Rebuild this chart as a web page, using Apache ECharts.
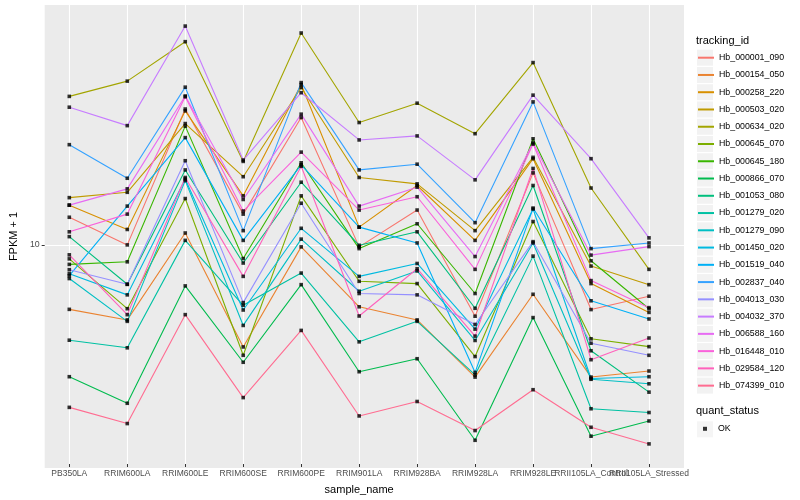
<!DOCTYPE html>
<html><head><meta charset="utf-8">
<script src="https://cdn.jsdelivr.net/npm/echarts@6/dist/echarts.min.js"></script>
<style>html,body{margin:0;padding:0;background:#fff}#c{width:800px;height:500px}</style>
</head><body><div id="c"></div>
<script>
const categories = ['PB350LA','RRIM600LA','RRIM600LE','RRIM600SE','RRIM600PE','RRIM901LA','RRIM928BA','RRIM928LA','RRIM928LE','RRII105LA_Control','RRII105LA_Stressed'];
const trackingIds = ['Hb_000001_090','Hb_000154_050','Hb_000258_220','Hb_000503_020','Hb_000634_020','Hb_000645_070','Hb_000645_180','Hb_000866_070','Hb_001053_080','Hb_001279_020','Hb_001279_090','Hb_001450_020','Hb_001519_040','Hb_002837_040','Hb_004013_030','Hb_004032_370','Hb_006588_160','Hb_016448_010','Hb_029584_120','Hb_074399_010'];
const quantStatus = ['OK'];
const yTickLabels = [10];

const hb000001_090 = [12.2, 9.85, 28.2, 12.5, 26.4, 9.70, 12.9, 5.67, 17.2, 5.97, 6.62];
const hb000154_050 = [5.98, 5.51, 10.8, 4.47, 9.70, 6.10, 5.51, 3.54, 6.72, 3.54, 3.71];
const hb000258_220 = [13.4, 11.1, 27.8, 14.4, 34.1, 11.3, 15.6, 10.2, 19.2, 7.30, 5.84];
const hb000503_020 = [14.2, 14.8, 25.2, 16.7, 33.3, 16.6, 15.8, 11.0, 19.4, 8.36, 7.24];
const hb000634_020 = [31.1, 35.0, 47.5, 18.8, 50.8, 25.4, 29.5, 23.3, 40.4, 15.3, 8.15];
const hb000645_070 = [8.84, 6.01, 14.1, 4.19, 14.4, 7.43, 7.30, 4.15, 11.8, 4.76, 4.48];
const hb000645_180 = [8.47, 8.64, 24.7, 8.86, 18.6, 9.57, 11.6, 6.76, 22.4, 8.71, 6.01];
const hb000866_070 = [3.55, 2.89, 7.17, 3.97, 7.24, 3.69, 4.08, 2.17, 5.61, 2.24, 2.52];
const hb001053_080 = [10.5, 7.26, 17.6, 8.56, 16.0, 9.82, 10.9, 6.03, 15.6, 4.34, 3.15];
const hb001279_020 = [4.71, 4.44, 10.2, 6.17, 7.92, 4.65, 5.45, 3.60, 9.03, 2.77, 2.69];
const hb001279_090 = [7.59, 5.45, 16.2, 5.28, 10.3, 6.88, 8.05, 4.70, 10.0, 3.48, 3.36];
const hb001450_020 = [7.88, 6.69, 16.4, 5.95, 11.2, 7.72, 8.53, 5.13, 13.0, 3.50, 3.55];
const hb001519_040 = [7.76, 13.3, 22.6, 10.2, 18.3, 11.3, 10.0, 3.67, 13.1, 6.39, 5.55];
const hb002837_040 = [21.4, 16.5, 33.4, 11.0, 34.6, 17.6, 18.4, 11.7, 29.8, 9.57, 10.0];
const hb004013_030 = [8.13, 7.26, 18.9, 6.30, 13.6, 6.76, 6.69, 5.32, 10.1, 4.60, 4.19];
const hb004032_370 = [28.6, 24.8, 53.6, 19.0, 32.0, 22.2, 22.9, 16.3, 31.4, 19.2, 10.4];
const hb006588_160 = [13.4, 15.2, 31.2, 14.0, 27.1, 13.3, 15.4, 9.00, 21.7, 9.10, 9.72];
const hb016448_010 = [10.9, 12.5, 31.0, 12.8, 20.2, 12.9, 14.3, 8.15, 21.5, 7.47, 6.06];
const hb029584_120 = [9.12, 5.74, 16.6, 7.72, 18.1, 5.68, 8.19, 4.86, 17.8, 4.05, 4.79];
const hb074399_010 = [2.80, 2.47, 5.74, 3.02, 5.08, 2.62, 2.93, 2.34, 3.21, 2.40, 2.11];

const seriesValues = [hb000001_090, hb000154_050, hb000258_220, hb000503_020, hb000634_020, hb000645_070, hb000645_180, hb000866_070, hb001053_080, hb001279_020, hb001279_090, hb001450_020, hb001519_040, hb002837_040, hb004013_030, hb004032_370, hb006588_160, hb016448_010, hb029584_120, hb074399_010];

const palette = ['#F8766D','#EA8331','#D89000','#C09B00','#A3A500','#7CAE00','#39B600','#00BB4E','#00BF7D','#00C1A3','#00BFC4','#00BAE0','#00B0F6','#35A2FF','#9590FF','#C77CFF','#E76BF3','#FA62DB','#FF62BC','#FF6C91'];

const FONT = '"Liberation Sans", Arial, sans-serif';
const yMin = 1.806, yMax = 63.1;

const chart = echarts.init(document.getElementById('c'), null, {renderer: 'canvas'});

const lineSeries = trackingIds.map((id, i) => ({
  name: id, type: 'line', xAxisIndex: 1, yAxisIndex: 1,
  data: seriesValues[i], symbol: 'none', showSymbol: false,
  lineStyle: {color: palette[i], width: 1.1},
  itemStyle: {color: palette[i]},
  z: 2, silent: true, animation: false
}));

const points = [];
seriesValues.forEach(arr => arr.forEach((v, j) => points.push([j, v])));

chart.setOption({
  animation: false,
  textStyle: {fontFamily: FONT},
  title: [
    {text: 'tracking_id', left: 696, top: 35, padding: 0, textStyle: {fontSize: 11, fontWeight: 'normal', color: '#000', fontFamily: FONT}},
    {text: 'quant_status', left: 696, top: 405, padding: 0, textStyle: {fontSize: 11, fontWeight: 'normal', color: '#000', fontFamily: FONT}}
  ],
  grid: [
    {left: 35, right: 116, top: 5, bottom: 32, show: true, backgroundColor: '#EBEBEB', borderWidth: 0, containLabel: false},
    {left: 69.3, right: 151, top: 5, bottom: 32, containLabel: false}
  ],
  xAxis: [
    {gridIndex: 0, type: 'value', min: 0, max: 1, show: false},
    {gridIndex: 1, type: 'category', data: categories, boundaryGap: false,
     axisLine: {show: false},
     axisTick: {show: true, length: 3, lineStyle: {color: '#333333', width: 1}},
     axisLabel: {interval: 0, fontSize: 8.5, color: '#4D4D4D', margin: 5, fontFamily: FONT},
     splitLine: {show: true, lineStyle: {color: '#FFFFFF', width: 1.1}},
     name: 'sample_name', nameLocation: 'middle', nameGap: 20,
     nameTextStyle: {fontSize: 11, color: '#000', fontFamily: FONT}}
  ],
  yAxis: [
    {gridIndex: 0, type: 'log', min: yMin, max: yMax,
     axisLine: {show: false},
     axisTick: {show: true, length: 3, customValues: yTickLabels, lineStyle: {color: '#333333', width: 1}},
     axisLabel: {customValues: yTickLabels, fontSize: 8.8, color: '#4D4D4D', margin: 5, fontFamily: FONT},
     splitLine: {show: true, lineStyle: {color: '#FFFFFF', width: 1.1}},
     minorSplitLine: {show: false},
     name: 'FPKM + 1', nameLocation: 'middle', nameGap: 18,
     nameTextStyle: {fontSize: 11, color: '#000', fontFamily: FONT}},
    {gridIndex: 1, type: 'log', min: yMin, max: yMax, show: false, splitLine: {show: false}}
  ],
  legend: [
    {orient: 'vertical', left: 697, top: 49.7, itemWidth: 16, itemHeight: 16, itemGap: 1.26,
      selectedMode: false, padding: 0, data: trackingIds, icon: 'rect', z: 1,
      itemStyle: {color: '#F2F2F2', borderWidth: 0},
      textStyle: {color: 'rgba(0,0,0,0)', fontSize: 8.8, fontFamily: FONT}},
    {orient: 'vertical', left: 697, top: 51.3, itemWidth: 16, itemHeight: 16, itemGap: 4.46,
      selectedMode: false, padding: 0, data: trackingIds, z: 3,
      itemStyle: {opacity: 0},
      textStyle: {color: '#000', fontSize: 8.8, fontFamily: FONT}},
    {orient: 'vertical', left: 697, top: 421.3, itemWidth: 16, itemHeight: 16, itemGap: 1.26,
      selectedMode: false, padding: 0, data: quantStatus, icon: 'rect', z: 1,
      itemStyle: {color: '#F2F2F2', borderWidth: 0},
      textStyle: {color: 'rgba(0,0,0,0)', fontSize: 8.8, fontFamily: FONT}},
    {orient: 'vertical', left: 703, top: 424.3, padding: 0, itemWidth: 4, itemHeight: 4, icon: 'rect',
      selectedMode: false, data: quantStatus, z: 3,
      itemStyle: {color: '#000'},
      textStyle: {color: '#000', fontSize: 8.8, fontFamily: FONT, padding: [0, 0, 0, 6]}}
  ],
  series: lineSeries.concat([{
    name: 'OK', type: 'scatter', xAxisIndex: 1, yAxisIndex: 1, data: points,
    symbol: 'rect', symbolSize: 3.6, itemStyle: {color: '#000'}, z: 5, silent: true
  }])
});
</script></body></html>
